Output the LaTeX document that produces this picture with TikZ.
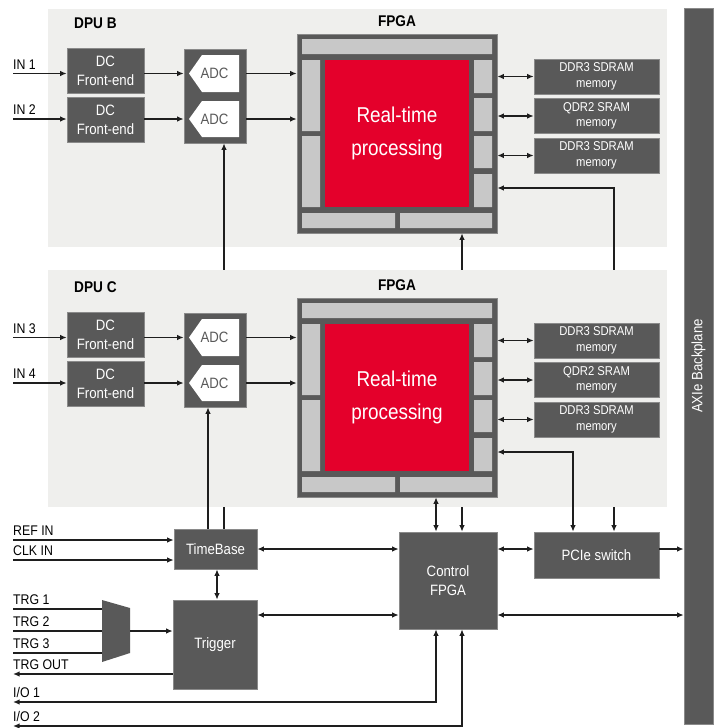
\documentclass[tikz,border=0pt]{standalone}
\usepackage{fontspec}
\setmainfont{Liberation Sans}[FakeStretch=0.88]
\usepackage{tikz}
\usetikzlibrary{arrows.meta,positioning,calc}
\definecolor{Panel}{HTML}{EFEFED}
\definecolor{Block}{HTML}{595959}
\definecolor{Edge}{HTML}{8A8A8A}
\definecolor{Slot}{HTML}{C8C8C8}
\definecolor{Core}{HTML}{E4002B}
\definecolor{Wire}{HTML}{1E1E1E}

\begin{document}
\begin{tikzpicture}[x=1pt,y=-1pt,
  every node/.style={font=\fontsize{15}{18.5}\selectfont},
  panel/.style={fill=Panel},
  blk/.style={draw=Edge,line width=0.6pt,fill=Block,text=white,align=center,inner sep=0pt},
  fe/.style={blk,minimum width=77pt,minimum height=45pt},
  adcbox/.style={blk,minimum width=62pt,minimum height=94pt},
  adc/.style={text=Block,inner sep=0pt},
  fpga/.style={blk,minimum width=200pt,minimum height=199pt},
  slot/.style={fill=Slot},
  core/.style={fill=Core,text=white,align=center,inner sep=0pt,minimum width=144pt,
    minimum height=147pt,font=\fontsize{21.5}{33}\selectfont},
  mem/.style={blk,minimum width=125pt,minimum height=35pt,font=\fontsize{12.8}{15.5}\selectfont},
  title/.style={font=\fontsize{15.5}{17}\selectfont\bfseries,anchor=base,inner sep=0pt},
  lbl/.style={font=\fontsize{14}{15}\selectfont,anchor=base west,inner sep=0pt},
  wire/.style={line width=1.35pt,Wire},
  arr/.style={wire,-{Latex[length=6.5pt,width=5.5pt]}},
  biarr/.style={wire,{Latex[length=6.5pt,width=5.5pt]}-{Latex[length=6.5pt,width=5.5pt]}}
]
\useasboundingbox (0,0) rectangle (715,728);

% DPU B
\fill[panel] (48,9) rectangle (667,247);
\node[blk,minimum width=29pt,minimum height=716pt] (axie) at (698.5,366) {\rotatebox{90}{AXIe Backplane}};
\node[title,anchor=base west] (dpuBname) at (74,28) {DPU B};
\node[title] (fpgaBname) at (397,27) {FPGA};
\node[fe] (feB1) at (105.5,71) {DC\\Front-end};
\node[fe] (feB2) at (105.5,120) {DC\\Front-end};
\node[adcbox] (adcB) at (215,96) {};
\fill[white] (239,55) -- (202,55) -- (189,73.5) -- (202,92) -- (239,92) -- cycle
  (239,101) -- (202,101) -- (189,119) -- (202,137) -- (239,137) -- cycle;
\node[adc] (adcB1) at (214.5,73.5) {ADC};
\node[adc] (adcB2) at (214.5,119) {ADC};
\node[fpga] (fpgaB) at (397,133.5) {};
\path[slot] (302,39) rectangle (492,54) (302,60) rectangle (320,131) (302,136) rectangle (320,207)
  (474,60) rectangle (492,93) (474,98) rectangle (492,131) (474,136) rectangle (492,168)
  (474,174) rectangle (492,207) (302,213) rectangle (395,228) (400,213) rectangle (492,228);
\node[core] (coreB) at (397,133.5) {Real-time\\processing};
\node[mem] (memB1) at (596.5,76.5) {DDR3 SDRAM\\memory};
\node[mem] (memB2) at (596.5,116) {QDR2 SRAM\\memory};
\node[mem] (memB3) at (596.5,155.5) {DDR3 SDRAM\\memory};
\coordinate (inB1) at (13,73.5);
\coordinate (inB2) at (13,119);
\node[lbl] (lblB1) at (13,69) {IN 1};
\node[lbl] (lblB2) at (13,114.5) {IN 2};
\draw[arr] (inB1) -- (inB1 -| feB1.west);
\draw[arr] (inB1 -| feB1.east) -- (inB1 -| adcB.west);
\draw[arr] (inB1 -| adcB.east) -- (inB1 -| fpgaB.west);
\draw[arr] (inB2) -- (inB2 -| feB2.west);
\draw[arr] (inB2 -| feB2.east) -- (inB2 -| adcB.west);
\draw[arr] (inB2 -| adcB.east) -- (inB2 -| fpgaB.west);
\draw[biarr] (fpgaB.east |- memB1) -- (memB1.west);
\draw[biarr] (fpgaB.east |- memB2) -- (memB2.west);
\draw[biarr] (fpgaB.east |- memB3) -- (memB3.west);

% control side
\node[blk,minimum width=83pt,minimum height=40pt] (tbase) at (215.5,549) {TimeBase};
\node[blk,minimum width=84pt,minimum height=89pt] (trig) at (215,644.5) {Trigger};
\node[blk,minimum width=98pt,minimum height=97pt] (ctrl) at (448,580.5) {Control\\FPGA};
\node[blk,minimum width=125pt,minimum height=46pt] (pcie) at (596.5,555) {PCIe switch};
\fill[Block] (102,600) -- (130,608) -- (130,653) -- (102,662) -- cycle;
\coordinate (muxL) at (102,631);
\coordinate (muxR) at (130,631);

% links to DPU B, running behind DPU C
\draw[arr] ([xshift=8.5pt]tbase.north) -- ([xshift=8.5pt]tbase.north |- adcB.south);
\draw[biarr] ([xshift=14pt]ctrl.north) -- ([xshift=14pt]ctrl.north |- fpgaB.south);
\draw[biarr] ([xshift=17.5pt]pcie.north) |- ([yshift=-54.5pt]fpgaB.east);

% DPU C
\fill[panel] (48,270) rectangle (667,507);
\begin{scope}[yshift=-264pt]
\node[title,anchor=base west] (dpuCname) at (74,28) {DPU C};
\node[title] (fpgaCname) at (397,26.5) {FPGA};
\node[fe] (feC1) at (105.5,71) {DC\\Front-end};
\node[fe] (feC2) at (105.5,120) {DC\\Front-end};
\node[adcbox] (adcC) at (215,96) {};
\fill[white] (239,55) -- (202,55) -- (189,73.5) -- (202,92) -- (239,92) -- cycle
  (239,101) -- (202,101) -- (189,119) -- (202,137) -- (239,137) -- cycle;
\node[adc] (adcC1) at (214.5,73.5) {ADC};
\node[adc] (adcC2) at (214.5,119) {ADC};
\node[fpga] (fpgaC) at (397,133.5) {};
\path[slot] (302,39) rectangle (492,54) (302,60) rectangle (320,131) (302,136) rectangle (320,207)
  (474,60) rectangle (492,93) (474,98) rectangle (492,131) (474,136) rectangle (492,168)
  (474,174) rectangle (492,207) (302,213) rectangle (395,228) (400,213) rectangle (492,228);
\node[core] (coreC) at (397,133.5) {Real-time\\processing};
\node[mem] (memC1) at (596.5,76.5) {DDR3 SDRAM\\memory};
\node[mem] (memC2) at (596.5,116) {QDR2 SRAM\\memory};
\node[mem] (memC3) at (596.5,155.5) {DDR3 SDRAM\\memory};
\coordinate (inC1) at (13,73.5);
\coordinate (inC2) at (13,119);
\node[lbl] (lblC1) at (13,69) {IN 3};
\node[lbl] (lblC2) at (13,114.5) {IN 4};
\end{scope}
\draw[arr] (inC1) -- (inC1 -| feC1.west);
\draw[arr] (inC1 -| feC1.east) -- (inC1 -| adcC.west);
\draw[arr] (inC1 -| adcC.east) -- (inC1 -| fpgaC.west);
\draw[arr] (inC2) -- (inC2 -| feC2.west);
\draw[arr] (inC2 -| feC2.east) -- (inC2 -| adcC.west);
\draw[arr] (inC2 -| adcC.east) -- (inC2 -| fpgaC.west);
\draw[biarr] (fpgaC.east |- memC1) -- (memC1.west);
\draw[biarr] (fpgaC.east |- memC2) -- (memC2.west);
\draw[biarr] (fpgaC.east |- memC3) -- (memC3.west);

% links to DPU C
\draw[arr] ([xshift=-7.5pt]tbase.north) -- ([xshift=-7.5pt]tbase.north |- adcC.south);
\draw[biarr] ([xshift=-12pt]ctrl.north) -- ([xshift=-12pt]ctrl.north |- fpgaC.south);
\draw[biarr] ([xshift=-23.5pt]pcie.north) |- ([yshift=-54.5pt]fpgaC.east);

% clocks, triggers and I/O
\coordinate (refin) at (13,540);
\coordinate (clkin) at (13,560);
\node[lbl] (lblref) at (13,535.5) {REF IN};
\node[lbl] (lblclk) at (13,555.5) {CLK IN};
\draw[arr] (refin) -- (refin -| tbase.west);
\draw[arr] (clkin) -- (clkin -| tbase.west);
\draw[biarr] (tbase.east) -- (tbase.east -| ctrl.west);
\draw[biarr] ([xshift=1.5pt]tbase.south) -- ([xshift=1.5pt]tbase.south |- trig.north);
\draw[biarr] (tbase.east -| ctrl.east) -- (tbase.east -| pcie.west);
\draw[arr] (tbase.east -| pcie.east) -- (tbase.east -| axie.west);
\draw[biarr] ([yshift=29.5pt]trig.east) coordinate (tc) -- (tc -| ctrl.west);
\draw[biarr] (tc -| ctrl.east) -- (tc -| axie.west);
\coordinate (trg1) at (13,609);
\coordinate (trg2) at (13,631);
\coordinate (trg3) at (13,653);
\coordinate (trgout) at (13,674);
\node[lbl] (lbltrg1) at (13,604.5) {TRG 1};
\node[lbl] (lbltrg2) at (13,626.5) {TRG 2};
\node[lbl] (lbltrg3) at (13,648.5) {TRG 3};
\node[lbl] (lbltrgout) at (13,669.5) {TRG OUT};
\draw[wire] (trg1) -- (trg1 -| muxL);
\draw[wire] (trg2) -- (trg2 -| muxL);
\draw[wire] (trg3) -- (trg3 -| muxL);
\draw[arr] (muxR) -- (muxR -| trig.west);
\draw[arr] (trgout -| trig.west) -- (trgout);
\coordinate (io1) at (13,702);
\coordinate (io2) at (13,726);
\node[lbl] (lblio1) at (13,697.5) {I/O 1};
\node[lbl] (lblio2) at (13,721.5) {I/O 2};
\draw[biarr] (io1) -| ([xshift=-12pt]ctrl.south);
\draw[biarr] (io2) -| ([xshift=14pt]ctrl.south);
\end{tikzpicture}
\end{document}
